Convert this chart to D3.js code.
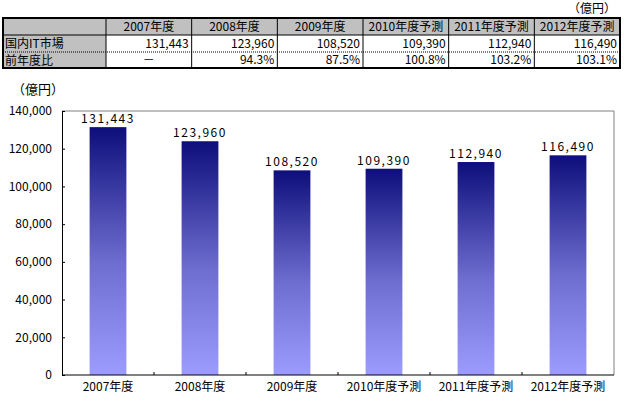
<!DOCTYPE html>
<html>
<head>
<meta charset="utf-8">
<script src="https://cdn.jsdelivr.net/npm/d3@7"></script>
<style>
  body { margin: 0; background: #fff; }
  svg { display: block; font-family: "Noto Sans CJK JP", sans-serif; }
</style>
</head>
<body>
<svg width="624" height="405"></svg>
<script>
const categories = ['2007年度', '2008年度', '2009年度', '2010年度予測', '2011年度予測', '2012年度予測'];
const values = [131443, 123960, 108520, 109390, 112940, 116490];
const ratios = ['－', '94.3%', '87.5%', '100.8%', '103.2%', '103.1%'];
const rowLabels = ['国内IT市場', '前年度比'];
const yTicks = [0, 20000, 40000, 60000, 80000, 100000, 120000, 140000];
const unit = '（億円）';

const svg = d3.select('svg');
const fmt = d3.format(',');

// ---- table ----
const tbl = {left: 3, right: 620, top: 18, labelW: 103, rowH: [17, 17, 16]};
const colX = d3.scaleBand().domain(categories).range([tbl.left + tbl.labelW, tbl.right]);
const rowY = [tbl.top, tbl.top + tbl.rowH[0], tbl.top + tbl.rowH[0] + tbl.rowH[1]];
const tblBottom = rowY[2] + tbl.rowH[2];
const t = svg.append('g').attr('class', 'table');

t.append('text').attr('x', 616).attr('y', 13).attr('text-anchor', 'end')
  .attr('font-size', 12).text(unit);

// gray fills
t.append('rect').attr('x', tbl.left).attr('y', tbl.top)
  .attr('width', tbl.right - tbl.left).attr('height', tbl.rowH[0]).attr('fill', '#c0c0c0');
t.append('rect').attr('x', tbl.left).attr('y', rowY[1])
  .attr('width', tbl.labelW).attr('height', tblBottom - rowY[1]).attr('fill', '#c0c0c0');

// grid lines
t.append('line').attr('x1', tbl.left).attr('x2', tbl.right).attr('y1', rowY[1]).attr('y2', rowY[1])
  .attr('stroke', '#000');
t.append('line').attr('x1', tbl.left).attr('x2', tbl.right).attr('y1', rowY[2]).attr('y2', rowY[2])
  .attr('stroke', '#000').attr('stroke-dasharray', '1,1');
t.selectAll('.vline').data(categories).enter().append('line')
  .attr('class', 'vline')
  .attr('x1', d => colX(d)).attr('x2', d => colX(d))
  .attr('y1', tbl.top).attr('y2', tblBottom).attr('stroke', '#000');
t.append('rect').attr('x', tbl.left).attr('y', tbl.top)
  .attr('width', tbl.right - tbl.left).attr('height', tblBottom - tbl.top)
  .attr('fill', 'none').attr('stroke', '#000').attr('stroke-width', 2);

// header
t.selectAll('.hdr').data(categories).enter().append('text')
  .attr('class', 'hdr')
  .attr('x', d => colX(d) + colX.bandwidth() / 2).attr('y', rowY[0] + 13)
  .attr('text-anchor', 'middle').attr('font-size', 12).text(d => d);

// row labels
t.selectAll('.rl').data(rowLabels).enter().append('text')
  .attr('class', 'rl')
  .attr('x', tbl.left + 2).attr('y', (d, i) => rowY[i + 1] + 13)
  .attr('font-size', 12).text(d => d);

// values
t.selectAll('.v').data(values).enter().append('text')
  .attr('class', 'v')
  .attr('x', (d, i) => colX(categories[i]) + colX.bandwidth() - 3).attr('y', rowY[1] + 13)
  .attr('text-anchor', 'end').attr('font-size', 12).text(d => fmt(d));
t.selectAll('.r').data(ratios).enter().append('text')
  .attr('class', 'r')
  .attr('x', (d, i) => i === 0 ? colX(categories[i]) + colX.bandwidth() / 2 : colX(categories[i]) + colX.bandwidth() - 3)
  .attr('y', rowY[2] + 12)
  .attr('text-anchor', (d, i) => i === 0 ? 'middle' : 'end')
  .attr('font-size', 12).text(d => d);

// ---- chart ----
const plot = {left: 62, right: 614, top: 111, bottom: 375};
const x = d3.scaleBand().domain(categories).range([plot.left, plot.right])
  .paddingInner(0.6).paddingOuter(0.3);
const y = d3.scaleLinear().domain([0, 140000]).range([plot.bottom, plot.top]);

const grad = svg.append('defs').append('linearGradient')
  .attr('id', 'barGrad').attr('x1', 0).attr('y1', 0).attr('x2', 0).attr('y2', 1);
grad.append('stop').attr('offset', '0%').attr('stop-color', '#0e0e7c');
grad.append('stop').attr('offset', '55%').attr('stop-color', '#6e6ed0');
grad.append('stop').attr('offset', '100%').attr('stop-color', '#9c9cff');

const g = svg.append('g');

svg.append('text').attr('x', 12).attr('y', 94).attr('font-size', 13).text(unit);

// plot border (top/right gray)
g.append('path')
  .attr('d', `M${plot.left},${plot.top}H${plot.right}V${plot.bottom}`)
  .attr('fill', 'none').attr('stroke', '#808080');

g.selectAll('.bar').data(values).enter().append('rect')
  .attr('class', 'bar')
  .attr('x', (d, i) => x(categories[i]))
  .attr('y', d => y(d))
  .attr('width', x.bandwidth())
  .attr('height', d => y(0) - y(d))
  .attr('fill', 'url(#barGrad)');

g.selectAll('.lbl').data(values).enter().append('text')
  .attr('class', 'lbl')
  .attr('x', (d, i) => x(categories[i]) + x.bandwidth() / 2)
  .attr('y', d => y(d) - 4)
  .attr('text-anchor', 'middle').attr('font-size', 12).attr('letter-spacing', 1.5)
  .text(d => fmt(d));

// y axis
const yAxis = d3.axisLeft(y).tickValues(yTicks).tickFormat(fmt).tickSize(-3).tickPadding(10);
const ya = g.append('g').attr('transform', `translate(${plot.left},0)`).call(yAxis);
ya.select('.domain').attr('stroke', '#000');
ya.selectAll('text').attr('font-size', 12).attr('font-family', '"Noto Sans CJK JP", sans-serif')
  .attr('fill', '#000');

// x axis with ticks at category boundaries
const xa = g.append('g').attr('transform', `translate(0,${plot.bottom})`);
xa.append('line').attr('x1', plot.left).attr('x2', plot.right).attr('stroke', '#000');
const bounds = categories.slice(1).map(c => x(c) - x.step() * x.paddingInner() / 2);
xa.selectAll('.xt').data(bounds).enter().append('line')
  .attr('class', 'xt').attr('x1', d => d).attr('x2', d => d)
  .attr('y1', 0).attr('y2', -3).attr('stroke', '#000');
xa.selectAll('.xl').data(categories).enter().append('text')
  .attr('class', 'xl')
  .attr('x', d => x(d) + x.bandwidth() / 2).attr('y', 16)
  .attr('text-anchor', 'middle').attr('font-size', 12).text(d => d);
</script>
</body>
</html>
